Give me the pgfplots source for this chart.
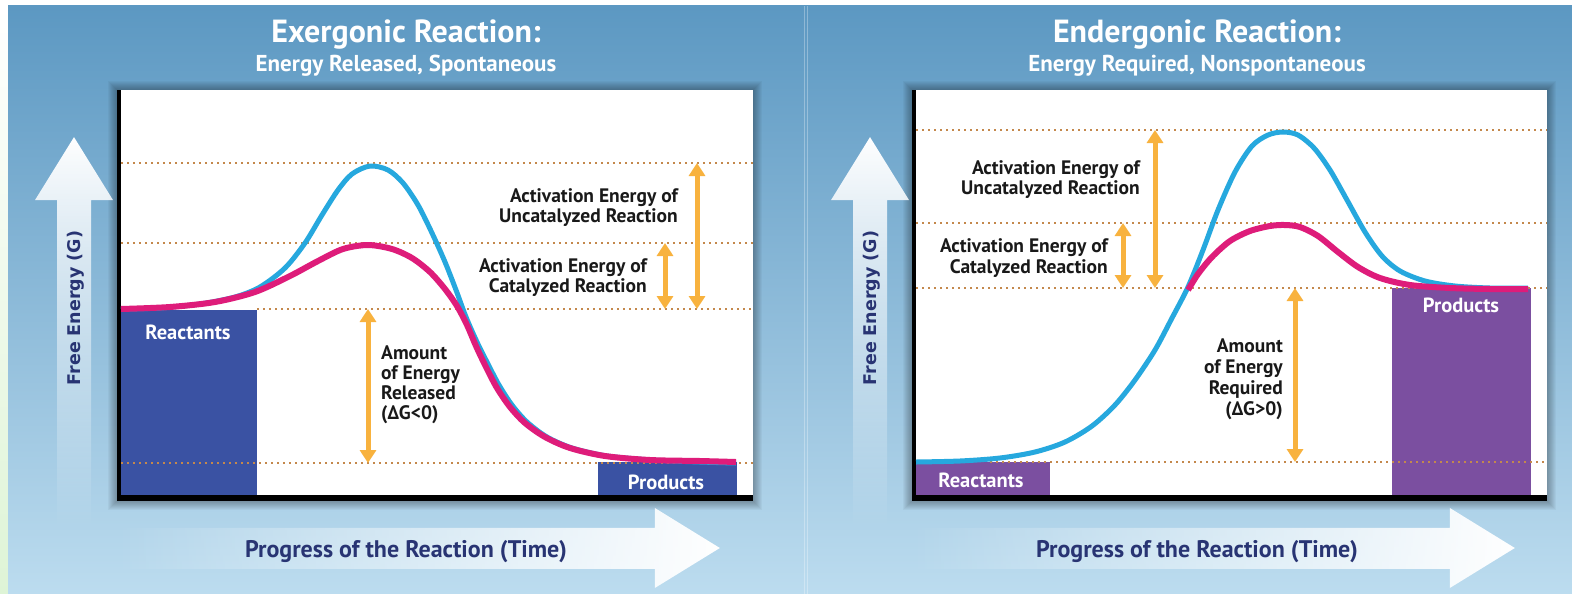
\documentclass[border=0pt]{standalone}
\usepackage{pgfplots}
\pgfplotsset{compat=1.18}
\usepackage{fontspec}
\setmainfont{PT Sans}
\newfontfamily\labfont{PT Sans}
\newfontfamily\axfont{DejaVu Sans}
\usetikzlibrary{fadings,arrows.meta}
\definecolor{bgtop}{RGB}{92,152,194}
\definecolor{bgmid}{RGB}{132,182,218}
\definecolor{bgbot}{RGB}{188,220,239}
\definecolor{reactblue}{RGB}{58,82,163}
\definecolor{purp}{RGB}{123,79,160}
\definecolor{curveblue}{RGB}{38,168,222}
\definecolor{curvepink}{RGB}{222,28,122}
\definecolor{dotc}{RGB}{196,136,76}
\definecolor{arrorange}{RGB}{248,178,62}
\definecolor{navy}{RGB}{40,52,115}
\definecolor{lab}{RGB}{25,25,25}
\tikzfading[name=fadeup, top color=transparent!0, middle color=transparent!25, bottom color=transparent!100]
\tikzfading[name=faderight, right color=transparent!0, middle color=transparent!25, left color=transparent!100]
\tikzset{
  oarrow/.style={arrorange, line width=5pt, {Triangle[width=16pt,length=13pt]}-{Triangle[width=16pt,length=13pt]}},
  lbl/.style={font=\labfont\bfseries\fontsize{19.5}{21}\selectfont, text=lab, inner sep=0pt},
  barlbl/.style={font=\labfont\bfseries\fontsize{20.5}{22}\selectfont, text=white, inner sep=0pt, anchor=base},
}
\pgfplotsset{dotl/.style={dotc, line width=2pt, dash pattern=on 2pt off 4pt, forget plot}}
\begin{document}
\begin{tikzpicture}
\useasboundingbox (0,0) rectangle (1572pt,-594pt);
\begin{scope}[x=1pt,y=-1pt]
  \fill[white] (0,0) rectangle (1572,594);
  \shade[top color=white, bottom color={rgb,255:red,222;green,244;blue,214}] (0,6) rectangle (8,594);
  \shade[top color=bgtop, middle color=bgmid, bottom color=bgbot] (8,6) rectangle (1572,594);
  \draw[white, opacity=0.3, line width=1pt] (804,6) -- (804,594);
  \draw[white, opacity=0.3, line width=1pt] (807,6) -- (807,594);
  % shadows of plot boxes
  \foreach \i in {1,...,9} {
    \fill[black, opacity=0.035] (117-\i,90-\i) rectangle (753+\i,501+\i);
    \fill[black, opacity=0.035] (912-\i,90-\i) rectangle (1547+\i,501+\i);
  }
  \fill[white] (117,90) rectangle (753,501);
  \fill[white] (912,90) rectangle (1547,501);
  % axis arrows
  \fill[white, path fading=fadeup] (57,528) -- (57,200) -- (35,200) -- (74,137) -- (113,200) -- (91,200) -- (91,528) -- cycle;
  \fill[white, path fading=fadeup] (853,528) -- (853,200) -- (831,200) -- (870,137) -- (909,200) -- (887,200) -- (887,528) -- cycle;
  \fill[white, path fading=faderight] (115,528) -- (655,528) -- (655,508) -- (720,548) -- (655,588) -- (655,569) -- (115,569) -- cycle;
  \fill[white, path fading=faderight] (910,528) -- (1450,528) -- (1450,508) -- (1515,548) -- (1450,588) -- (1450,569) -- (910,569) -- cycle;
  % titles
  \node[anchor=base, text=white, inner sep=0pt, font=\bfseries\fontsize{32}{34}\selectfont] at (406,43) {Exergonic Reaction:};
  \node[anchor=base, text=white, inner sep=0pt, font=\bfseries\fontsize{23}{26}\selectfont] at (406,72) {Energy Released, Spontaneous};
  \node[anchor=base, text=white, inner sep=0pt, font=\bfseries\fontsize{32}{34}\selectfont] at (1197,43) {Endergonic Reaction:};
  \node[anchor=base, text=white, inner sep=0pt, font=\bfseries\fontsize{23}{26}\selectfont] at (1197,72) {Energy Required, Nonspontaneous};
  % axis labels
  \node[rotate=90, text=navy, inner sep=0pt, font=\axfont\bfseries\fontsize{17.5}{20}\selectfont] at (76,308) {Free Energy (G)};
  \node[rotate=90, text=navy, inner sep=0pt, font=\axfont\bfseries\fontsize{17.5}{20}\selectfont] at (872,308) {Free Energy (G)};
  \node[anchor=base, text=navy, inner sep=0pt, font=\labfont\bfseries\fontsize{24}{26}\selectfont] at (406,557) {Progress of the Reaction (Time)};
  \node[anchor=base, text=navy, inner sep=0pt, font=\labfont\bfseries\fontsize{24}{26}\selectfont] at (1197,557) {Progress of the Reaction (Time)};
\end{scope}

% ---------------- Exergonic panel ----------------
\begin{axis}[at={(435pt,-295.5pt)}, anchor=center, scale only axis,
  width=636pt, height=411pt, xmin=117, xmax=753, ymin=90, ymax=501,
  y dir=reverse, hide axis, clip=false]
  % reactants / products bars
  \addplot[fill=reactblue, draw=none, forget plot] coordinates {(120,310) (257,310) (257,501) (120,501)} -- cycle;
  \addplot[fill=reactblue, draw=none, forget plot] coordinates {(598,462) (737,462) (737,501) (598,501)} -- cycle;
  % energy levels
  \addplot[dotl] coordinates {(121,163) (753,163)};
  \addplot[dotl] coordinates {(121,243) (753,243)};
  \addplot[dotl] coordinates {(257,309) (753,309)};
  \addplot[dotl] coordinates {(121,463) (753,463)};
  % frame
  \draw[black, line width=4pt] (axis cs:119,90) -- (axis cs:119,501);
  \draw[black, line width=6pt] (axis cs:117,498) -- (axis cs:753,498);
  % uncatalyzed
  \addplot[curveblue, line width=5pt, smooth, forget plot] coordinates {
    (121,309) (160,308) (200,304) (235,297) (260,287) (285,268) (305,243) (322,215)
    (338,190) (352,174) (370,166) (388,170) (403,183) (418,205) (432,233) (445,262)
    (456,290) (466,317) (477,342) (488,364) (499,385) (512,405) (527,422) (547,437)
    (572,448) (607,456) (652,460) (700,462) (736,463)};
  % catalyzed
  \addplot[curvepink, line width=6pt, smooth, forget plot] coordinates {
    (121,309) (170,307) (215,302) (255,292) (290,276) (318,261) (343,249) (368,245)
    (392,249) (412,258) (430,272) (445,289) (457,306) (467,325) (476,346) (486,367)
    (497,388) (510,407) (525,423) (545,437) (570,448) (605,456) (650,460) (700,461) (736,462)};
  % arrows
  \draw[oarrow] (axis cs:697,163) -- (axis cs:697,309);
  \draw[oarrow] (axis cs:665,243) -- (axis cs:665,309);
  \draw[oarrow] (axis cs:368,309) -- (axis cs:368,463);
  % labels
  \node[barlbl] at (axis cs:188,339) {Reactants};
  \node[barlbl] at (axis cs:666,489) {Products};
  \node[lbl, anchor=base east] at (axis cs:678,202) {Activation Energy of};
  \node[lbl, anchor=base east] at (axis cs:678,222) {Uncatalyzed Reaction};
  \node[lbl, anchor=base east] at (axis cs:647,272) {Activation Energy of};
  \node[lbl, anchor=base east] at (axis cs:647,292) {Catalyzed Reaction};
  \node[lbl, anchor=base west] at (axis cs:381,359) {Amount};
  \node[lbl, anchor=base west] at (axis cs:381,379) {of Energy};
  \node[lbl, anchor=base west] at (axis cs:381,399) {Released};
  \node[lbl, anchor=base west] at (axis cs:381,419) {(ΔG<0)};
\end{axis}

% ---------------- Endergonic panel ----------------
\begin{axis}[at={(1229.5pt,-295.5pt)}, anchor=center, scale only axis,
  width=635pt, height=411pt, xmin=912, xmax=1547, ymin=90, ymax=501,
  y dir=reverse, hide axis, clip=false]
  \addplot[fill=purp, draw=none, forget plot] coordinates {(916,462) (1050,462) (1050,501) (916,501)} -- cycle;
  \addplot[fill=purp, draw=none, forget plot] coordinates {(1392,288) (1531,288) (1531,501) (1392,501)} -- cycle;
  \addplot[dotl] coordinates {(916,130) (1547,130)};
  \addplot[dotl] coordinates {(916,223) (1547,223)};
  \addplot[dotl] coordinates {(916,288) (1547,288)};
  \addplot[dotl] coordinates {(990,462) (1547,462)};
  \draw[black, line width=4pt] (axis cs:914,90) -- (axis cs:914,501);
  \draw[black, line width=6pt] (axis cs:912,498) -- (axis cs:1547,498);
  \addplot[curveblue, line width=5pt, smooth, forget plot] coordinates {
    (916,462) (960,461) (1000,458) (1035,452) (1065,442) (1092,426) (1115,405) (1135,380)
    (1155,350) (1172,318) (1188,287) (1203,250) (1218,210) (1235,172) (1252,146) (1268,135)
    (1283,132) (1298,135) (1314,148) (1330,170) (1347,200) (1365,232) (1382,256) (1400,271)
    (1425,281) (1455,286) (1490,288) (1528,288)};
  \addplot[curvepink, line width=6pt, smooth, forget plot] coordinates {
    (1188,290) (1198,274) (1212,257) (1230,241) (1250,231) (1270,226) (1285,225) (1300,227)
    (1318,236) (1338,252) (1358,267) (1380,278) (1410,285) (1450,288) (1490,289) (1528,289)};
  \draw[oarrow] (axis cs:1155,130) -- (axis cs:1155,288);
  \draw[oarrow] (axis cs:1123,223) -- (axis cs:1123,288);
  \draw[oarrow] (axis cs:1295,288) -- (axis cs:1295,462);
  \node[barlbl] at (axis cs:981,487) {Reactants};
  \node[barlbl] at (axis cs:1461,312) {Products};
  \node[lbl, anchor=base east] at (axis cs:1140,174) {Activation Energy of};
  \node[lbl, anchor=base east] at (axis cs:1140,194) {Uncatalyzed Reaction};
  \node[lbl, anchor=base east] at (axis cs:1108,252) {Activation Energy of};
  \node[lbl, anchor=base east] at (axis cs:1108,273) {Catalyzed Reaction};
  \node[lbl, anchor=base east] at (axis cs:1283,352) {Amount};
  \node[lbl, anchor=base east] at (axis cs:1283,373) {of Energy};
  \node[lbl, anchor=base east] at (axis cs:1283,394) {Required};
  \node[lbl, anchor=base east] at (axis cs:1283,415) {(ΔG>0)};
\end{axis}
\end{tikzpicture}
\end{document}
